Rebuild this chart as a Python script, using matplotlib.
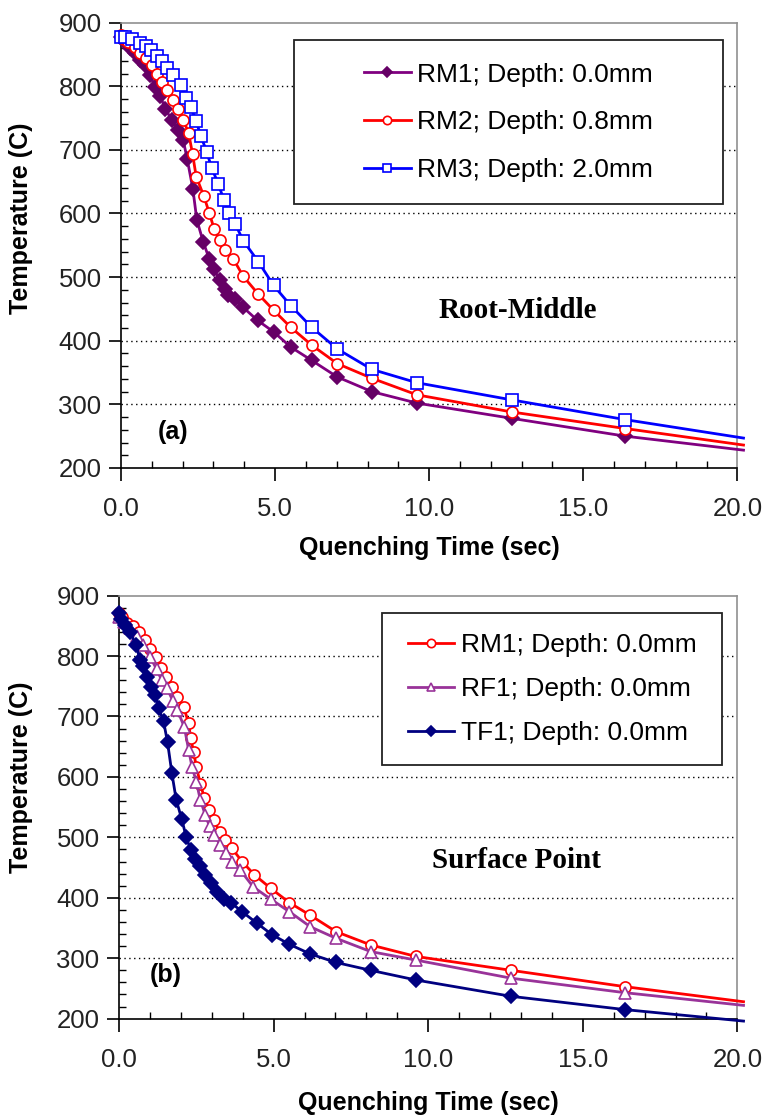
import numpy as np
import matplotlib
matplotlib.use("Agg")
import matplotlib.pyplot as plt
from matplotlib.patches import Rectangle
from matplotlib.ticker import MultipleLocator, FormatStrFormatter

plt.rcParams['font.family'] = ['Liberation Sans', 'DejaVu Sans']

# (a) Root-Middle
t_rm1a = [0, 0.13, 0.29, 0.45, 0.62, 0.78, 0.94, 1.1, 1.27, 1.43, 1.65, 1.86, 2.02, 2.15, 2.33,
          2.46, 2.67, 2.86, 3.02, 3.21, 3.38, 3.48, 3.70, 3.95, 4.43, 4.95, 5.51, 6.19, 7.02,
          8.14, 9.6, 12.68, 16.36, 20.2]
T_rm1a = [878, 870, 860, 852, 842, 833, 818, 799, 785, 765, 747, 731, 715, 685, 639,
          590, 555, 529, 512, 495, 482, 472, 466, 453, 432, 414, 390, 369, 343,
          320, 302, 278, 250, 228]
t_rm2a = [0, 0.1, 0.24, 0.45, 0.62, 0.81, 1.0, 1.16, 1.32, 1.48, 1.68, 1.86, 2.02, 2.19, 2.32,
          2.44, 2.69, 2.87, 3.02, 3.21, 3.38, 3.65, 3.97, 4.46, 4.95, 5.51, 6.19, 7.02, 8.14,
          9.6, 12.68, 16.36, 20.2]
T_rm2a = [880, 875, 870, 862, 853, 844, 833, 820, 807, 794, 778, 765, 747, 727, 694,
          658, 627, 600, 576, 558, 542, 528, 501, 473, 448, 421, 393, 364, 341,
          315, 288, 262, 236]
t_rm3a = [0, 0.13, 0.35, 0.6, 0.81, 0.96, 1.16, 1.32, 1.48, 1.7, 1.94, 2.11, 2.27, 2.43, 2.59,
          2.78, 2.94, 3.16, 3.34, 3.52, 3.70, 3.97, 4.46, 4.95, 5.51, 6.19, 7.02, 8.14, 9.6,
          12.68, 16.36, 20.2]
T_rm3a = [878, 877, 874, 868, 863, 857, 848, 839, 828, 818, 802, 782, 767, 746, 722,
          697, 672, 646, 621, 601, 584, 557, 524, 487, 455, 421, 387, 355, 334,
          307, 276, 247]

# (b) Surface Point
t_rm1b = [0, 0.09, 0.25, 0.46, 0.63, 0.84, 1.0, 1.2, 1.35, 1.52, 1.71, 1.89, 2.09, 2.25, 2.32,
          2.41, 2.5, 2.63, 2.76, 2.9, 3.06, 3.25, 3.44, 3.65, 3.98, 4.38, 4.9, 5.51, 6.19,
          7.02, 8.14, 9.6, 12.68, 16.36, 20.2]
T_rm1b = [871, 864, 855, 849, 839, 826, 811, 799, 781, 766, 749, 733, 716, 689, 664,
          642, 617, 589, 565, 545, 529, 509, 496, 482, 460, 438, 416, 392, 371,
          344, 322, 303, 280, 253, 228]
t_rf1b = [0, 0.15, 0.36, 0.57, 0.79, 1.0, 1.22, 1.38, 1.55, 1.74, 1.89, 2.11, 2.25, 2.36, 2.5,
          2.63, 2.79, 2.93, 3.08, 3.28, 3.47, 3.65, 3.92, 4.34, 4.9, 5.51, 6.19, 7.02, 8.14,
          9.6, 12.68, 16.36, 20.2]
T_rf1b = [865, 856, 846, 833, 818, 799, 778, 760, 747, 726, 710, 683, 645, 617, 592,
          562, 537, 518, 504, 487, 474, 460, 446, 418, 398, 377, 352, 333, 311,
          297, 267, 243, 222]
t_tf1b = [0, 0.05, 0.19, 0.36, 0.55, 0.68, 0.79, 0.92, 1.03, 1.17, 1.28, 1.44, 1.57, 1.71, 1.85,
          2.03, 2.17, 2.32, 2.46, 2.63, 2.79, 2.97, 3.17, 3.38, 3.62, 3.98, 4.46, 4.95, 5.51,
          6.19, 7.02, 8.14, 9.6, 12.68, 16.36, 20.2]
T_tf1b = [871, 861, 851, 840, 818, 794, 783, 766, 749, 736, 714, 692, 657, 606, 562,
          530, 501, 479, 464, 452, 438, 424, 410, 398, 392, 377, 358, 339, 323,
          307, 293, 280, 264, 237, 215, 196]

fig = plt.figure(figsize=(7.64, 11.15), dpi=100)
ax1 = fig.add_axes([0.1584, 0.5803, 0.8067, 0.3994])
ax2 = fig.add_axes([0.1558, 0.0864, 0.8093, 0.3794])


def style_axes(ax):
    ax.set_xlim(0, 20)
    ax.set_ylim(200, 900)
    ax.xaxis.set_major_locator(MultipleLocator(5))
    ax.xaxis.set_minor_locator(MultipleLocator(1))
    ax.yaxis.set_major_locator(MultipleLocator(100))
    ax.yaxis.set_minor_locator(MultipleLocator(20))
    ax.xaxis.set_major_formatter(FormatStrFormatter('%.1f'))
    ax.tick_params(which='major', direction='out', length=9, width=1.2,
                   labelsize=18.5, labelcolor='#222222')
    ax.tick_params(which='minor', direction='in', length=5, width=1.0)
    ax.tick_params(axis='x', which='major', pad=12)
    ax.tick_params(axis='y', which='major', pad=5)
    for y in range(300, 900, 100):
        ax.axhline(y, color='black', lw=1.0, ls=(0, (1, 2.5)), zorder=0)
    for s in ['top', 'right']:
        ax.spines[s].set_color('#909090')
        ax.spines[s].set_linewidth(1.2)
    for s in ['left', 'bottom']:
        ax.spines[s].set_color('black')
        ax.spines[s].set_linewidth(1.2)
    ax.set_xlabel('Quenching Time (sec)', fontsize=18, fontweight='bold')
    ax.set_ylabel('Temperature (C)', fontsize=18, fontweight='bold')


def curve(ax, t, T, color, mk, mfc, mec, ms, label):
    ax.plot(t, T, color=color, lw=2.0, marker=mk, ms=ms, mfc=mfc, mec=mec, mew=1.2,
            markevery=slice(0, len(t) - 1), label=label, clip_on=False, zorder=3)


style_axes(ax1)
curve(ax1, t_rm1a, T_rm1a, '#800080', 'D', '#660066', '#660066', 7, 'RM1; Depth: 0.0mm')
curve(ax1, t_rm2a, T_rm2a, '#ff0000', 'o', 'white', '#ff0000', 8, 'RM2; Depth: 0.8mm')
curve(ax1, t_rm3a, T_rm3a, '#0000ff', 's', 'white', '#0000ff', 8.5, 'RM3; Depth: 2.0mm')
ax1.xaxis.set_label_coords(0.5, -0.152)
ax1.yaxis.set_label_coords(-0.143, 0.56)
ax1.text(12.87, 448, 'Root-Middle', family='Liberation Serif', fontweight='bold',
         fontsize=21, ha='center', va='center')
ax1.text(1.7, 257, '(a)', fontweight='bold', fontsize=18, ha='center', va='center')
ax1.add_patch(Rectangle((0.281, 0.593), 0.696, 0.367, transform=ax1.transAxes,
                        facecolor='white', edgecolor='#222222', lw=1.3, zorder=5))
leg1 = ax1.legend(loc='center', bbox_to_anchor=(0.629, 0.776), frameon=False, fontsize=19,
                  handlelength=1.75, handletextpad=0.25, labelspacing=0.9, numpoints=1,
                  borderpad=0, markerscale=0.75)
leg1.set_zorder(6)

style_axes(ax2)
curve(ax2, t_rm1b, T_rm1b, '#ff0000', 'o', 'white', '#ff0000', 8, 'RM1; Depth: 0.0mm')
curve(ax2, t_rf1b, T_rf1b, '#993399', '^', 'white', '#993399', 8.5, 'RF1; Depth: 0.0mm')
curve(ax2, t_tf1b, T_tf1b, '#000080', 'D', '#000080', '#000080', 7, 'TF1; Depth: 0.0mm')
ax2.xaxis.set_label_coords(0.5, -0.172)
ax2.yaxis.set_label_coords(-0.139, 0.57)
ax2.text(12.87, 462, 'Surface Point', family='Liberation Serif', fontweight='bold',
         fontsize=21, ha='center', va='center')
ax2.text(1.52, 272, '(b)', fontweight='bold', fontsize=18, ha='center', va='center')
ax2.add_patch(Rectangle((0.425, 0.600), 0.551, 0.358, transform=ax2.transAxes,
                        facecolor='white', edgecolor='#222222', lw=1.3, zorder=5))
leg2 = ax2.legend(loc='center', bbox_to_anchor=(0.7005, 0.779), frameon=False, fontsize=19,
                  handlelength=1.75, handletextpad=0.25, labelspacing=0.75, numpoints=1,
                  borderpad=0, markerscale=0.75)
leg2.set_zorder(6)

fig.savefig('out.png', dpi=100, facecolor='white')
